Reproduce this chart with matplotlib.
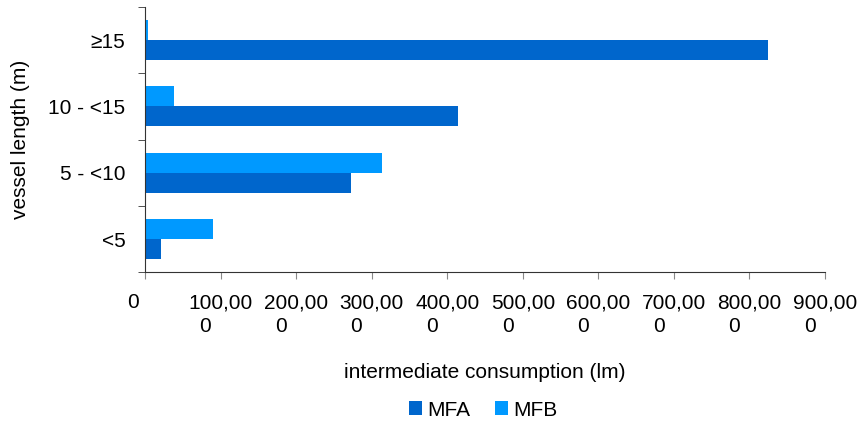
import numpy as np
import matplotlib.pyplot as plt
from matplotlib.ticker import FixedLocator

plt.rcParams['font.family'] = ['Liberation Sans', 'DejaVu Sans']

# vessel length classes, bottom to top
categories = ['<5', '5 - <10', '10 - <15', '\u226515']
mfa = [21000, 272000, 414000, 824000]
mfb = [90000, 314000, 39000, 3500]
xticks = [0, 100000, 200000, 300000, 400000, 500000, 600000, 700000, 800000, 900000]
xlabels = ['0    '] + ['%d,00\n0     ' % (v // 1000) for v in xticks[1:]]

fs = 15
fig = plt.figure(figsize=(8.63, 4.28), dpi=100)
ax = fig.add_axes([0.168, 0.364, 0.788, 0.62])

y = np.arange(len(categories))
h = 0.3
ax.barh(y - h / 2, mfa, height=h, color='#0066cc', label='MFA')
ax.barh(y + h / 2, mfb, height=h, color='#0099ff', label='MFB')

ax.set_xlim(0, 900000)
ax.set_ylim(-0.5, len(categories) - 0.5)

ax.set_xticks(xticks)
ax.set_xticklabels(xlabels, fontsize=fs, linespacing=1.3)
ax.set_yticks(y)
ax.set_yticklabels(categories, fontsize=fs)
ax.yaxis.set_minor_locator(FixedLocator(np.arange(-0.5, len(categories), 1)))
ax.tick_params(axis='y', which='major', length=0, pad=14)
ax.tick_params(axis='y', which='minor', length=5, color='#333333')
ax.tick_params(axis='x', length=5, color='#888888', pad=10)

for s in ['top', 'right']:
    ax.spines[s].set_visible(False)
ax.spines['left'].set_color('#333333')
ax.spines['bottom'].set_color('#333333')

ax.set_xlabel('intermediate consumption (lm)', fontsize=fs, labelpad=20)
ax.set_ylabel('vessel length (m)', fontsize=fs, labelpad=13)

fig.legend(loc='center', bbox_to_anchor=(0.56, 0.042), ncol=2, frameon=False,
           fontsize=fs, handlelength=0.6, handleheight=0.65, handletextpad=0.25,
           columnspacing=1.2)

fig.savefig('out.png', dpi=100)
